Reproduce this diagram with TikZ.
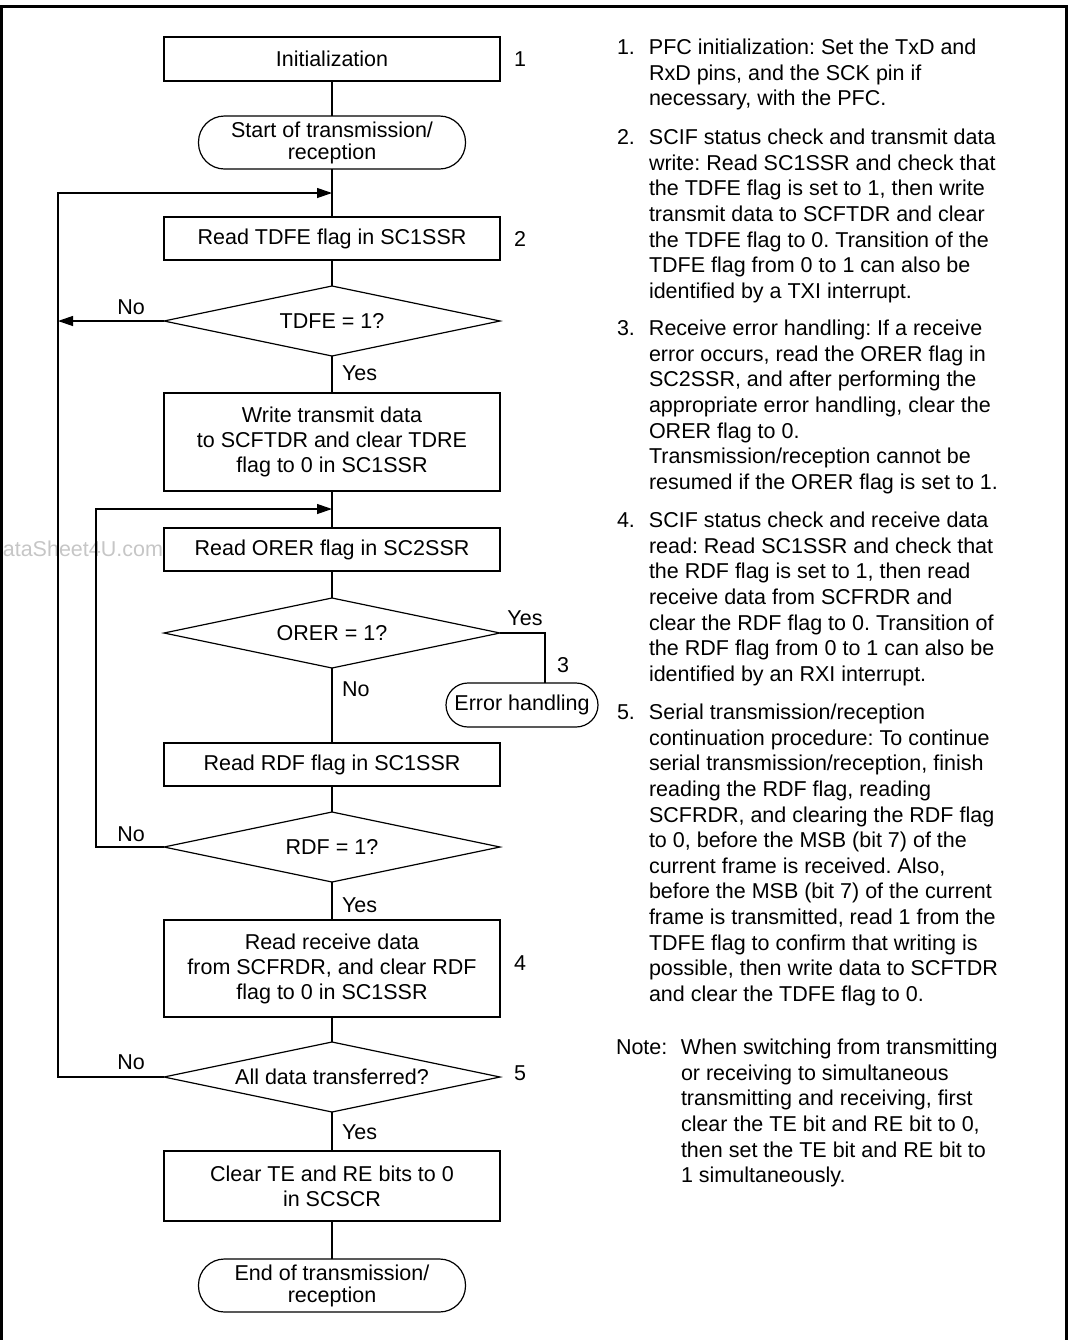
\documentclass[tikz,border=0pt]{standalone}
\usepackage{fontspec}
\setmainfont{Liberation Sans}
\usetikzlibrary{positioning,arrows.meta,shapes.geometric}
\newcommand{\stepline}[3][16pt]{\makebox[#1][l]{#2}\begin{tabular}[t]{@{}l@{}}#3\end{tabular}}
\frenchspacing

\begin{document}
\begin{tikzpicture}[
  x=1pt, y=-1pt,
  font=\fontsize{10.75}{12.5}\selectfont,
  line width=0.6pt,
  every node/.style={outer sep=0pt},
  box/.style={draw, rectangle, minimum width=168pt, align=center, inner sep=2pt},
  term/.style={draw, rectangle, rounded corners=13pt, minimum width=133.5pt, minimum height=26.5pt, align=center, inner ysep=1pt, font=\fontsize{10.75}{11}\selectfont},
  decision/.style={draw, diamond, aspect=4.8, minimum width=168pt, minimum height=35pt, inner sep=0pt},
  arrow/.style={-{Triangle[length=7.5pt,width=5pt]}},
  lbl/.style={inner sep=0pt, anchor=base},
  stepno/.style={inner sep=0pt, anchor=west},
  notetext/.style={anchor=base west, inner sep=0pt, font=\fontsize{10.75}{12.8}\selectfont}
]
\useasboundingbox (0,0) rectangle (534.5,670);
\draw[line width=1.5pt] (0.75,670) -- (0.75,3) -- (533,3) -- (533,670);
\node[anchor=base east, inner sep=0pt, text=gray!45] (wm) at (81.5,278.4) {ataSheet4U.com};

% flow
\node[box, minimum height=22pt] (init) at (166,29.5) {Initialization};
\node[term, below=17.5pt of init] (start) {Start of transmission/\\reception};
\node[box, minimum height=21.5pt, below=24pt of start] (rdtdfe) {Read TDFE flag in SC1SSR};
\node[decision, below=13pt of rdtdfe] (qtdfe) {TDFE = 1?};
\node[box, minimum height=49pt, below=18.5pt of qtdfe] (write) {Write transmit data\\to SCFTDR and clear TDRE\\flag to 0 in SC1SSR};
\node[box, minimum height=21.5pt, below=18.5pt of write] (rdorer) {Read ORER flag in SC2SSR};
\node[decision, below=13.5pt of rdorer] (qorer) {ORER = 1?};
\node[box, minimum height=21.5pt, below=37.5pt of qorer] (rdrdf) {Read RDF flag in SC1SSR};
\node[decision, below=13pt of rdrdf] (qrdf) {RDF = 1?};
\node[box, minimum height=48.5pt, below=19pt of qrdf] (rdrecv) {Read receive data\\from SCFRDR, and clear RDF\\flag to 0 in SC1SSR};
\node[decision, below=12.5pt of rdrecv] (qall) {All data transferred?};
\node[box, minimum height=35pt, below=19.5pt of qall] (clr) {Clear TE and RE bits to 0\\in SCSCR};
\node[term, below=19pt of clr] (fin) {End of transmission/\\reception};
\node[term, minimum width=76pt, minimum height=22pt, rounded corners=11pt, inner xsep=0pt] (err) at (261,352.5) {Error handling};

\coordinate (j1) at (166,96.5);
\coordinate (j2) at (166,254.5);
\coordinate (outer) at (29,0);
\coordinate (inner) at (48,0);

\draw (init) -- (start);
\draw (start) -- (rdtdfe);
\draw (rdtdfe) -- (qtdfe);
\draw (qtdfe) -- (write);
\draw (write) -- (rdorer);
\draw (rdorer) -- (qorer);
\draw (qorer) -- (rdrdf);
\draw (rdrdf) -- (qrdf);
\draw (qrdf) -- (rdrecv);
\draw (rdrecv) -- (qall);
\draw (qall) -- (clr);
\draw (clr) -- (fin);
\draw (qorer.east) -| ([xshift=11.5pt]err.north);
\draw[arrow] (qtdfe.west) -- (qtdfe.west -| outer);
\draw[arrow] (qall.west) -- (qall.west -| outer) |- (j1);
\draw[arrow] (qrdf.west) -- (qrdf.west -| inner) |- (j2);

% branch labels
\node[lbl] at ([xshift=-16.5pt,yshift=3.5pt]qtdfe.west) {No};
\node[lbl] at ([xshift=-16.5pt,yshift=2.6pt]qrdf.west) {No};
\node[lbl] at ([xshift=-16.5pt,yshift=4pt]qall.west) {No};
\node[lbl, anchor=base west] at ([xshift=5pt,yshift=-12.4pt]qtdfe.south) {Yes};
\node[lbl, anchor=base west] at ([xshift=5pt,yshift=-15.4pt]qrdf.south) {Yes};
\node[lbl, anchor=base west] at ([xshift=5pt,yshift=-13.9pt]qall.south) {Yes};
\node[lbl, anchor=base west] at ([xshift=5pt,yshift=-14.4pt]qorer.south) {No};
\node[lbl] at ([xshift=12.5pt,yshift=3.6pt]qorer.east) {Yes};

% step numbers
\node[stepno] at ([xshift=7pt]init.east) {1};
\node[stepno] at ([xshift=7pt]rdtdfe.east) {2};
\node[lbl, anchor=base west] at ([xshift=17.5pt,yshift=5.1pt]err.north) {3};
\node[stepno] at ([xshift=7pt,yshift=2.75pt]rdrecv.east) {4};
\node[stepno] at ([xshift=7pt,yshift=2pt]qall.east) {5};

% notes
\node[notetext] (n1) at (308.5,27.35) {\stepline{1.}{PFC initialization: Set the TxD and\\RxD pins, and the SCK pin if\\necessary, with the PFC.}};
\node[notetext] (n2) at (308.5,72.35) {\stepline{2.}{SCIF status check and transmit data\\write: Read SC1SSR and check that\\the TDFE flag is set to 1, then write\\transmit data to SCFTDR and clear\\the TDFE flag to 0. Transition of the\\TDFE flag from 0 to 1 can also be\\identified by a TXI interrupt.}};
\node[notetext] (n3) at (308.5,167.85) {\stepline{3.}{Receive error handling: If a receive\\error occurs, read the ORER flag in\\SC2SSR, and after performing the\\appropriate error handling, clear the\\ORER flag to 0.\\Transmission/reception cannot be\\resumed if the ORER flag is set to 1.}};
\node[notetext] (n4) at (308.5,263.85) {\stepline{4.}{SCIF status check and receive data\\read: Read SC1SSR and check that\\the RDF flag is set to 1, then read\\receive data from SCFRDR and\\clear the RDF flag to 0. Transition of\\the RDF flag from 0 to 1 can also be\\identified by an RXI interrupt.}};
\node[notetext] (n5) at (308.5,359.85) {\stepline{5.}{Serial transmission/reception\\continuation procedure: To continue\\serial transmission/reception, finish\\reading the RDF flag, reading\\SCFRDR, and clearing the RDF flag\\to 0, before the MSB (bit 7) of the\\current frame is received. Also,\\before the MSB (bit 7) of the current\\frame is transmitted, read 1 from the\\TDFE flag to confirm that writing is\\possible, then write data to SCFTDR\\and clear the TDFE flag to 0.}};
\node[notetext] (nt) at (308,527.35) {\stepline[32.5pt]{Note:}{When switching from transmitting\\or receiving to simultaneous\\transmitting and receiving, first\\clear the TE bit and RE bit to 0,\\then set the TE bit and RE bit to\\1 simultaneously.}};
\end{tikzpicture}
\end{document}
